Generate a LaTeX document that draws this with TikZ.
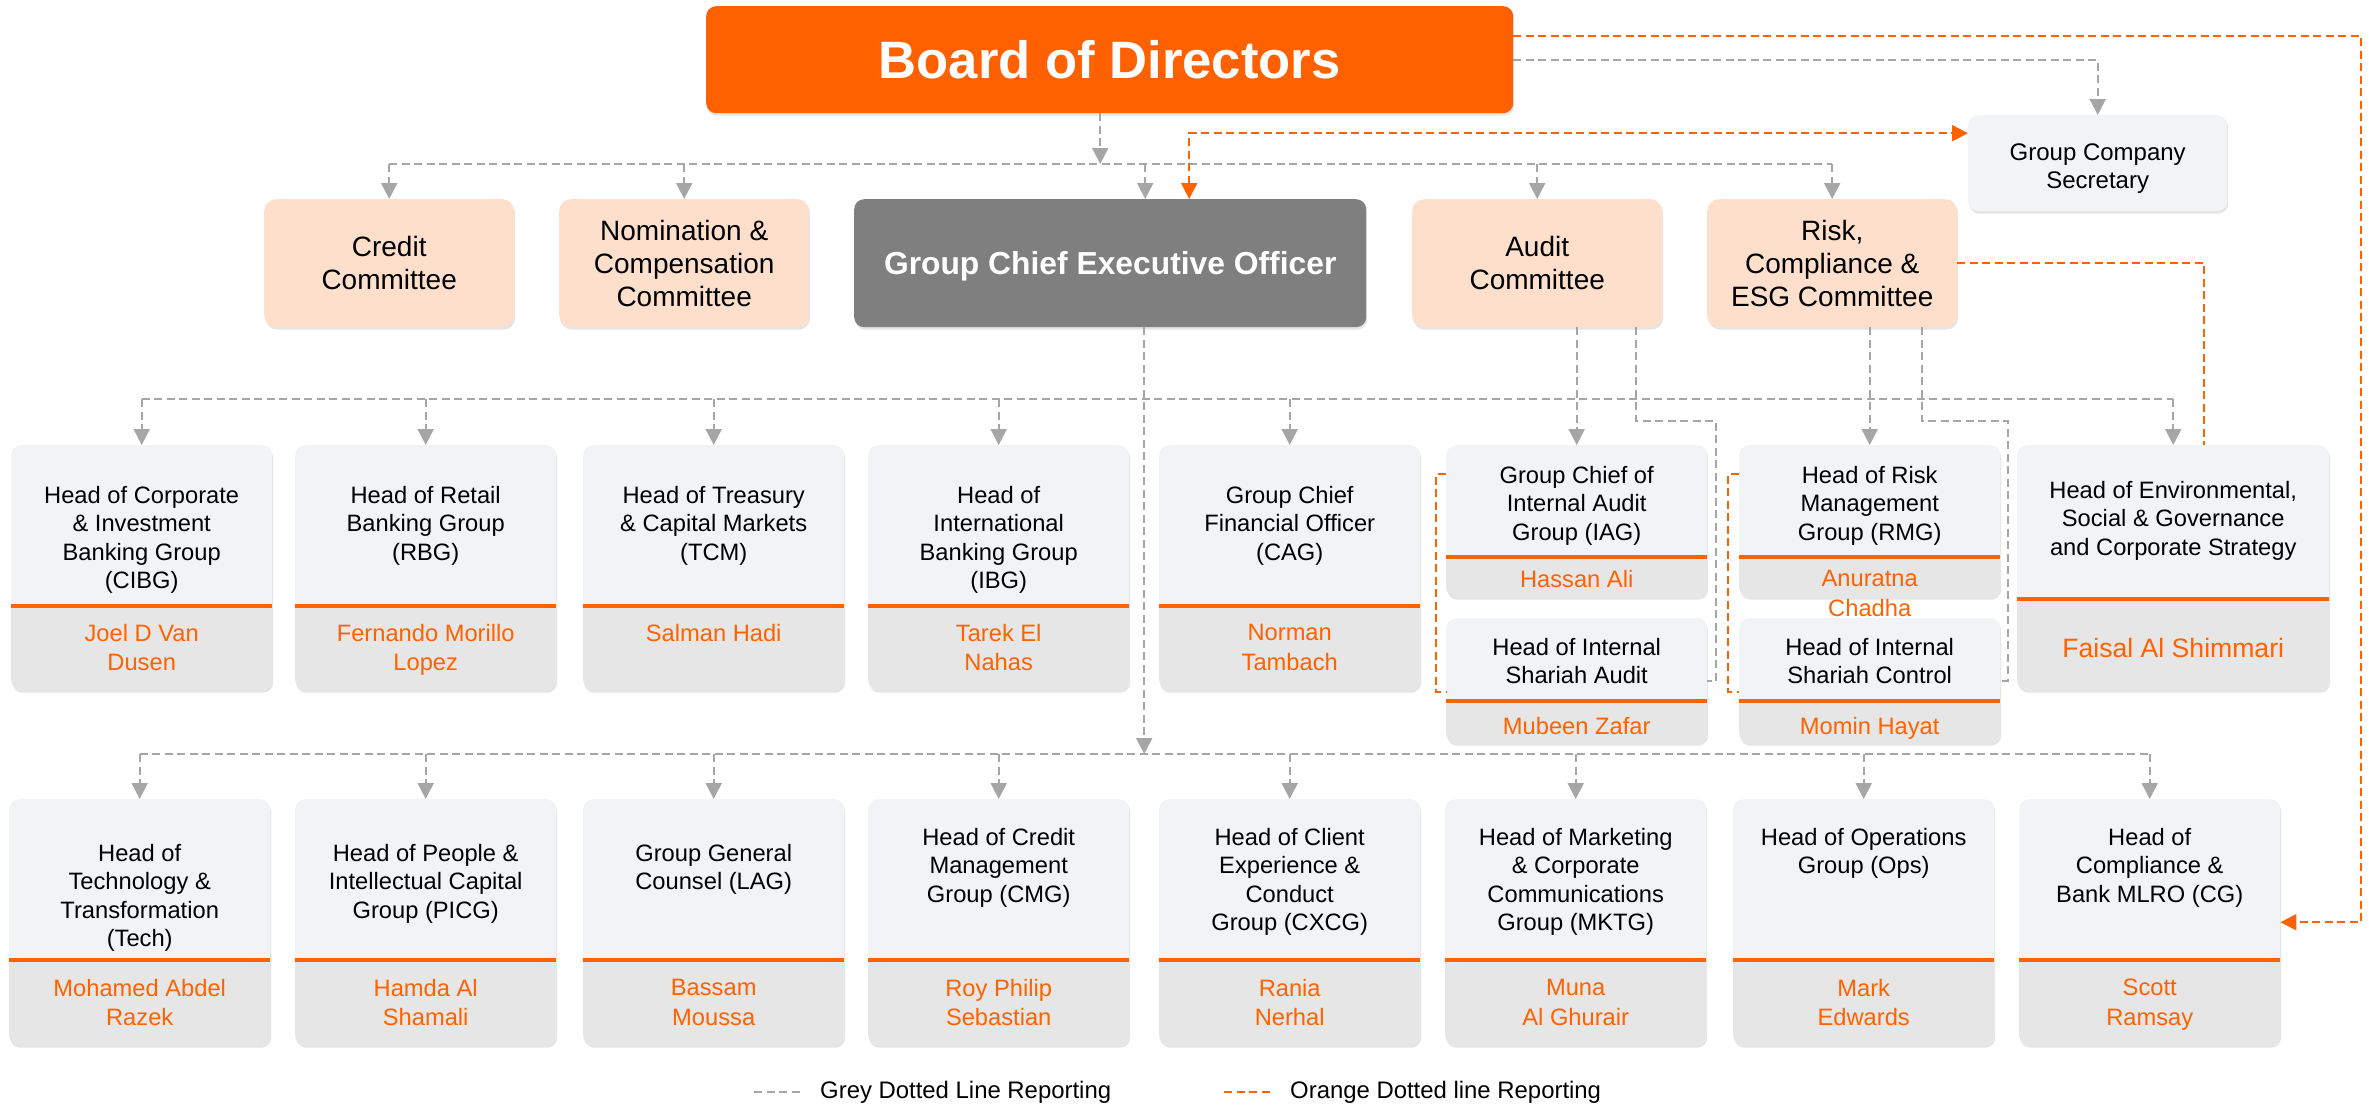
\documentclass[tikz,border=0pt]{standalone}
\usepackage{fontspec}
\setmainfont{Liberation Sans}
\usetikzlibrary{arrows.meta,positioning,shadows}
\definecolor{boardorange}{HTML}{FF6000}
\definecolor{namecol}{HTML}{FF6200}
\definecolor{peach}{HTML}{FDDFCC}
\definecolor{ceogrey}{HTML}{7F7F7F}
\definecolor{cardtop}{HTML}{F2F3F5}
\definecolor{cardlow}{HTML}{E6E6E6}
\definecolor{linegrey}{HTML}{A6A6A6}
\begin{document}
\begin{tikzpicture}[x=1pt, y=-1pt,
    softshadow/.style={drop shadow={shadow xshift=1pt, shadow yshift=-2.5pt, fill=black, opacity=0.10}},
    board/.style={rectangle, rounded corners=10pt, fill=boardorange, text=white, font=\fontsize{52.6}{60}\selectfont\bfseries, minimum width=807pt, minimum height=107pt, anchor=north west, softshadow},
    committee/.style={rectangle, rounded corners=12pt, fill=peach, align=center, font=\fontsize{28}{33}\selectfont, minimum width=250pt, minimum height=128pt, anchor=north west, softshadow},
    ceo/.style={rectangle, rounded corners=10pt, fill=ceogrey, text=white, font=\fontsize{31.8}{38}\selectfont\bfseries, minimum width=512pt, minimum height=128pt, anchor=north west, softshadow},
    secbox/.style={rectangle, rounded corners=10pt, fill=cardtop, align=center, font=\fontsize{24}{28.5}\selectfont, minimum width=259pt, minimum height=96pt, anchor=north west, softshadow},
    card/.style n args={3}{rectangle, rounded corners=10pt, fill=cardtop, inner sep=0pt, minimum width=#1pt, minimum height=#2pt, anchor=north west, softshadow,
        path picture={\fill [cardlow, sharp corners] ([yshift=#3pt]path picture bounding box.south west) rectangle (path picture bounding box.south east);
                      \draw [namecol, sharp corners, line width=3.5pt] ([yshift=#3pt]path picture bounding box.south west) -- ([yshift=#3pt]path picture bounding box.south east);}},
    headtext/.style={align=center, inner sep=0pt, font=\fontsize{23.7}{28.4}\selectfont},
    nametext/.style={align=center, inner sep=0pt, text=namecol, font=\fontsize{23.7}{29.5}\selectfont},
    greyline/.style={draw=linegrey, line width=2pt, dash pattern=on 8pt off 4.5pt},
    greyarrow/.style={greyline, -{Triangle[width=16pt,length=16pt]}},
    orangeline/.style={draw=namecol, line width=2pt, dash pattern=on 8pt off 4.5pt},
    orangearrow/.style={orangeline, -{Triangle[width=16pt,length=16pt]}},
    legendtext/.style={anchor=west, inner sep=0pt, font=\fontsize{23.9}{28}\selectfont},
]
\useasboundingbox (0,0) rectangle (2369,1106);

\node (board) [board] at (706,6) {Board of Directors};
\node (secretary) [secbox] at (1968,115) {\rule{0pt}{28pt}Group Company\\Secretary};

\node (credit) [committee] at (264,199) {Credit\\Committee};
\node (nomination) [committee] at (559,199) {Nomination \&\\Compensation\\Committee};
\node (gceo) [ceo] at (854,199) {\rule{0pt}{30pt}Group Chief Executive Officer};
\node (audit) [committee] at (1412,199) {Audit\\Committee};
\node (risk) [committee] at (1707,199) {Risk,\\Compliance \&\\ESG Committee};

\node (cibg) [card={261}{245}{84}] at (11,445) {};
\node (cibgT) [headtext, below=41pt of cibg.north] {Head of Corporate\\\& Investment\\Banking Group\\(CIBG)};
\node (cibgN) [nametext, below=179pt of cibg.north] {Joel D Van\\Dusen};

\node (rbg) [card={261}{245}{84}] at (295,445) {};
\node (rbgT) [headtext, below=41pt of rbg.north] {Head of Retail\\Banking Group\\(RBG)};
\node (rbgN) [nametext, below=179pt of rbg.north] {Fernando Morillo\\Lopez};

\node (tcm) [card={261}{245}{84}] at (583,445) {};
\node (tcmT) [headtext, below=41pt of tcm.north] {Head of Treasury\\\& Capital Markets\\(TCM)};
\node (tcmN) [nametext, below=179pt of tcm.north] {Salman Hadi};

\node (ibg) [card={261}{245}{84}] at (868,445) {};
\node (ibgT) [headtext, below=41pt of ibg.north] {Head of\\International\\Banking Group\\(IBG)};
\node (ibgN) [nametext, below=179pt of ibg.north] {Tarek El\\Nahas};

\node (cag) [card={261}{245}{84}] at (1159,445) {};
\node (cagT) [headtext, below=41pt of cag.north] {Group Chief\\Financial Officer\\(CAG)};
\node (cagN) [nametext, below=179pt of cag.north] {Norman\\Tambach};

\node (iag) [card={261}{152}{40}] at (1446,445) {};
\node (iagT) [headtext, below=21pt of iag.north] {Group Chief of\\Internal Audit\\Group (IAG)};
\node (iagN) [nametext, below=125pt of iag.north] {Hassan Ali};

\node (ishaudit) [card={261}{125}{42}] at (1446,618) {};
\node (ishauditT) [headtext, below=20pt of ishaudit.north] {Head of Internal\\Shariah Audit};
\node (ishauditN) [nametext, below=99pt of ishaudit.north] {Mubeen Zafar};

\node (rmg) [card={261}{152}{40}] at (1739,445) {};
\node (rmgT) [headtext, below=21pt of rmg.north] {Head of Risk\\Management\\Group (RMG)};

\node (ishctrl) [card={261}{125}{42}] at (1739,618) {};
\node (ishctrlT) [headtext, below=20pt of ishctrl.north] {Head of Internal\\Shariah Control};
\node (ishctrlN) [nametext, below=99pt of ishctrl.north] {Momin Hayat};
\node (rmgN) [nametext, below=125pt of rmg.north] {Anuratna\\Chadha};

\node (esg) [card={312}{245}{91}] at (2017,445) {};
\node (esgT) [headtext, below=36pt of esg.north] {Head of Environmental,\\Social \& Governance\\and Corporate Strategy};
\node (esgN) [nametext, font=\fontsize{26.6}{32}\selectfont, below=193pt of esg.north] {Faisal Al Shimmari};

\node (tech) [card={261}{246}{85}] at (9,799) {};
\node (techT) [headtext, below=45pt of tech.north] {Head of\\Technology \&\\Transformation\\(Tech)};
\node (techN) [nametext, below=180pt of tech.north] {Mohamed Abdel\\Razek};

\node (picg) [card={261}{246}{85}] at (295,799) {};
\node (picgT) [headtext, below=45pt of picg.north] {Head of People \&\\Intellectual Capital\\Group (PICG)};
\node (picgN) [nametext, below=180pt of picg.north] {Hamda Al\\Shamali};

\node (lag) [card={261}{246}{85}] at (583,799) {};
\node (lagT) [headtext, below=45pt of lag.north] {Group General\\Counsel (LAG)};
\node (lagN) [nametext, below=180pt of lag.north] {Bassam\\Moussa};

\node (cmg) [card={261}{246}{85}] at (868,799) {};
\node (cmgT) [headtext, below=29pt of cmg.north] {Head of Credit\\Management\\Group (CMG)};
\node (cmgN) [nametext, below=180pt of cmg.north] {Roy Philip\\Sebastian};

\node (cxcg) [card={261}{246}{85}] at (1159,799) {};
\node (cxcgT) [headtext, below=29pt of cxcg.north] {Head of Client\\Experience \&\\Conduct\\Group (CXCG)};
\node (cxcgN) [nametext, below=180pt of cxcg.north] {Rania\\Nerhal};

\node (mktg) [card={261}{246}{85}] at (1445,799) {};
\node (mktgT) [headtext, below=29pt of mktg.north] {Head of Marketing\\\& Corporate\\Communications\\Group (MKTG)};
\node (mktgN) [nametext, below=180pt of mktg.north] {Muna\\Al Ghurair};

\node (ops) [card={261}{246}{85}] at (1733,799) {};
\node (opsT) [headtext, below=29pt of ops.north] {Head of Operations\\Group (Ops)};
\node (opsN) [nametext, below=180pt of ops.north] {Mark\\Edwards};

\node (cg) [card={261}{246}{85}] at (2019,799) {};
\node (cgT) [headtext, below=29pt of cg.north] {Head of\\Compliance \&\\Bank MLRO (CG)};
\node (cgN) [nametext, below=180pt of cg.north] {Scott\\Ramsay};

\node (greykey) [legendtext] at (820,1092) {Grey Dotted Line Reporting};
\node (orangekey) [legendtext] at (1290,1092) {Orange Dotted line Reporting};

\coordinate (busA) at (0,164);
\coordinate (busB) at (0,399);
\coordinate (busC) at (0,754);
\coordinate (boardfoot) at ([xshift=-9.5pt]board.south);
\coordinate (boardtap) at ([yshift=23.5pt]board.east);
\coordinate (gceotop) at ([xshift=35pt]gceo.north);
\coordinate (ceotap) at ([xshift=79pt]gceo.north);
\coordinate (gceofoot) at ([xshift=34pt]gceo.south);
\coordinate (sectap) at ([yshift=30pt]secretary.west);
\coordinate (auditfoot) at ([xshift=99pt]audit.south);
\coordinate (riskfoot) at ([xshift=89.5pt]risk.south);
\coordinate (esgtap) at ([xshift=31pt]esg.north);
\coordinate (cgtap) at ([xshift=81pt]cg.east);

\draw [greyarrow] (boardfoot) -- (boardfoot |- busA);
\draw [greyline] (credit.north |- busA) -- (risk.north |- busA);
\draw [greyarrow] (credit.north |- busA) -- (credit.north);
\draw [greyarrow] (nomination.north |- busA) -- (nomination.north);
\draw [greyarrow] (gceotop |- busA) -- (gceotop);
\draw [greyarrow] (audit.north |- busA) -- (audit.north);
\draw [greyarrow] (risk.north |- busA) -- (risk.north);
\draw [greyarrow] (board.east) -| (secretary.north);
\draw [orangearrow] (boardtap) -| (cgtap) -- (cg.east);
\draw [orangeline, {Triangle[width=16pt,length=16pt]}-{Triangle[width=16pt,length=16pt]}] (ceotap) |- (sectap);

\draw [greyarrow] (gceofoot) -- (gceofoot |- busC);
\draw [greyline] (cibg.north |- busB) -- (esg.north |- busB);
\draw [greyarrow] (cibg.north |- busB) -- (cibg.north);
\draw [greyarrow] (rbg.north |- busB) -- (rbg.north);
\draw [greyarrow] (tcm.north |- busB) -- (tcm.north);
\draw [greyarrow] (ibg.north |- busB) -- (ibg.north);
\draw [greyarrow] (cag.north |- busB) -- (cag.north);
\draw [greyarrow] (esg.north |- busB) -- (esg.north);

\draw [greyarrow] (iag.north |- audit.south) -- (iag.north);
\draw [greyarrow] (rmg.north |- risk.south) -- (rmg.north);
\draw [greyline] (auditfoot) |- (1716,421) |- (ishaudit.east);
\draw [greyline] (riskfoot) |- (2008,421) |- (ishctrl.east);
\draw [orangeline] (iag.west |- 0,474) -| (1436,692) -- (ishaudit.west |- 0,692);
\draw [orangeline] (rmg.west |- 0,474) -| (1728,692) -- (ishctrl.west |- 0,692);
\draw [orangeline] (risk.east) -| (esgtap);

\draw [greyline] (tech.north |- busC) -- (cg.north |- busC);
\draw [greyarrow] (tech.north |- busC) -- (tech.north);
\draw [greyarrow] (picg.north |- busC) -- (picg.north);
\draw [greyarrow] (lag.north |- busC) -- (lag.north);
\draw [greyarrow] (cmg.north |- busC) -- (cmg.north);
\draw [greyarrow] (cxcg.north |- busC) -- (cxcg.north);
\draw [greyarrow] (mktg.north |- busC) -- (mktg.north);
\draw [greyarrow] (ops.north |- busC) -- (ops.north);
\draw [greyarrow] (cg.north |- busC) -- (cg.north);

\draw [greyline] ([xshift=-66pt]greykey.west) -- ([xshift=-17pt]greykey.west);
\draw [orangeline] ([xshift=-66pt]orangekey.west) -- ([xshift=-17pt]orangekey.west);

\end{tikzpicture}
\end{document}
